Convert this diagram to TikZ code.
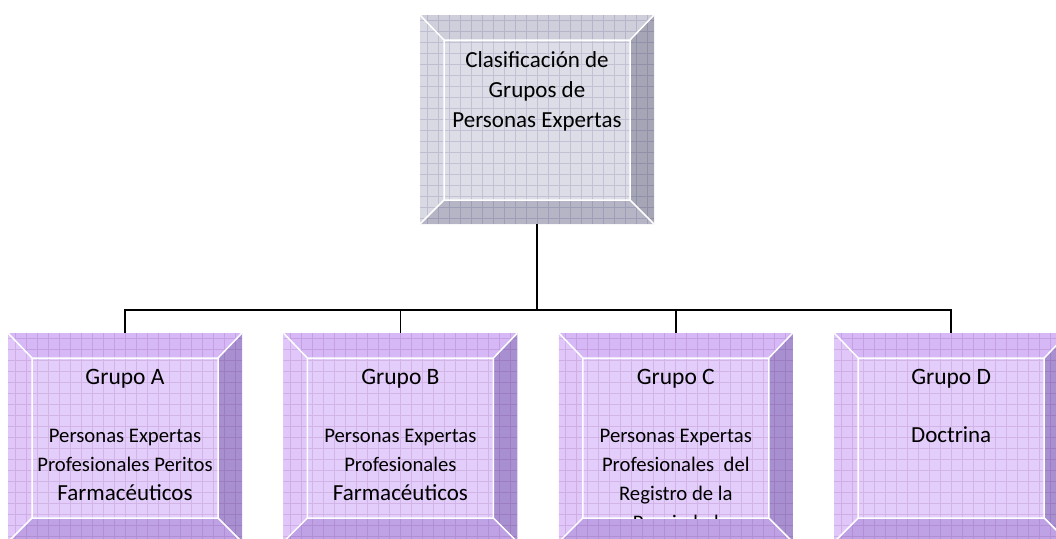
\documentclass[tikz,border=0pt]{standalone}
\usepackage{fontspec}
\setmainfont{Carlito}
\usetikzlibrary{positioning, calc}

\definecolor{lilacface}{HTML}{E3CDFA}
\definecolor{lilactop}{HTML}{D5B8F5}
\definecolor{lilacleft}{HTML}{E0C6F9}
\definecolor{lilacright}{HTML}{A78FD0}
\definecolor{lilacbottom}{HTML}{BFA2E6}
\definecolor{greyface}{HTML}{DDDDE7}
\definecolor{greytop}{HTML}{CFCFDB}
\definecolor{greyleft}{HTML}{D9D9E4}
\definecolor{greyright}{HTML}{A5A5B5}
\definecolor{greybottom}{HTML}{B5B5C5}

\newcommand{\largeline}{\fontsize{23}{29}\selectfont}
\newcommand{\grupoline}{\fontsize{23.5}{29}\selectfont}

\begin{document}
\begin{tikzpicture}[
    x=1pt, y=1pt,
    node distance=41pt,
    greyset/.code={\colorlet{bvface}{greyface}\colorlet{bvtop}{greytop}\colorlet{bvleft}{greyleft}\colorlet{bvright}{greyright}\colorlet{bvbottom}{greybottom}\colorlet{bvgrid}{black!70!blue}},
    lilacset/.code={\colorlet{bvface}{lilacface}\colorlet{bvtop}{lilactop}\colorlet{bvleft}{lilacleft}\colorlet{bvright}{lilacright}\colorlet{bvbottom}{lilacbottom}\colorlet{bvgrid}{violet!70!black}},
    bevelbox/.style={rectangle, minimum width=234pt, minimum height=209pt, inner sep=0pt, fill=bvface,
        path picture={
            \coordinate (sw) at (path picture bounding box.south west);
            \coordinate (ne) at (path picture bounding box.north east);
            \coordinate (nw) at (sw |- ne);
            \coordinate (se) at (ne |- sw);
            \coordinate (isw) at ($(sw)+(24pt,24pt)$);
            \coordinate (ine) at ($(ne)+(-24pt,-25pt)$);
            \coordinate (inw) at (isw |- ine);
            \coordinate (ise) at (ine |- isw);
            \fill[bvtop] (nw) -- (ne) -- (ine) -- (inw) -- cycle;
            \fill[bvright] (ne) -- (se) -- (ise) -- (ine) -- cycle;
            \fill[bvbottom] (se) -- (sw) -- (isw) -- (ise) -- cycle;
            \fill[bvleft] (sw) -- (nw) -- (inw) -- (isw) -- cycle;
            \draw[bvgrid, opacity=0.12, line width=0.7pt, step=11pt] (sw) grid (ne);
            \draw[white, line width=1.5pt] (nw) -- (inw) (ne) -- (ine) (se) -- (ise) (sw) -- (isw) (isw) rectangle (ine);
        }},
    greybox/.style={greyset, bevelbox},
    lilacbox/.style={lilacset, bevelbox},
    boxtext/.style={font=\fontsize{20.7}{29}\selectfont, align=center, inner sep=0pt},
    toptext/.style={font=\fontsize{23}{30}\selectfont, align=center, inner sep=0pt},
    trunk/.style={line width=2.4pt},
    branch/.style={line width=1.8pt}
    ]

    \useasboundingbox (0,0) rectangle (1056,-538);
    \clip (0,0) rectangle (1056,-538);

    % Root box
    \node (top) [greybox] at (537,-119.5) {};
    \node (toptxt) [toptext, below=37pt of top.north] {Clasificación de\\Grupos de\\Personas Expertas};

    % Group boxes
    \node (grupoA) [lilacbox] at (125,-437.5) {};
    \node (grupoB) [lilacbox, right=of grupoA] {};
    \node (grupoC) [lilacbox, right=of grupoB] {};
    \node (grupoD) [lilacbox, right=of grupoC] {};

    % Group texts
    \node (txtA) [boxtext, below=36pt of grupoA.north] {{\grupoline Grupo A}\\ \\Personas Expertas\\Profesionales Peritos\\{\largeline Farmacéuticos}};
    \node (txtB) [boxtext, below=36pt of grupoB.north] {{\grupoline Grupo B}\\ \\Personas Expertas\\Profesionales\\{\largeline Farmacéuticos}};
    \begin{scope}
        \clip ($(grupoC.south west)+(24pt,24pt)$) rectangle ($(grupoC.north east)+(-24pt,-25pt)$);
        \node (txtC) [boxtext, below=36pt of grupoC.north] {{\grupoline Grupo C}\\ \\Personas Expertas\\Profesionales\ \ del\\Registro de la\\Propiedad};
    \end{scope}
    \node (txtD) [boxtext, below=36pt of grupoD.north] {{\grupoline Grupo D}\\ \\{\largeline Doctrina}};

    % Connectors
    \coordinate[below=86pt of top.south] (bus);
    \draw[trunk] (top.south) -- (bus);
    \draw[branch] (bus) -| (grupoA.north);
    \draw[branch] (bus) -| (grupoB.north);
    \draw[branch] (bus) -| (grupoC.north);
    \draw[branch] (bus) -| (grupoD.north);
\end{tikzpicture}
\end{document}
